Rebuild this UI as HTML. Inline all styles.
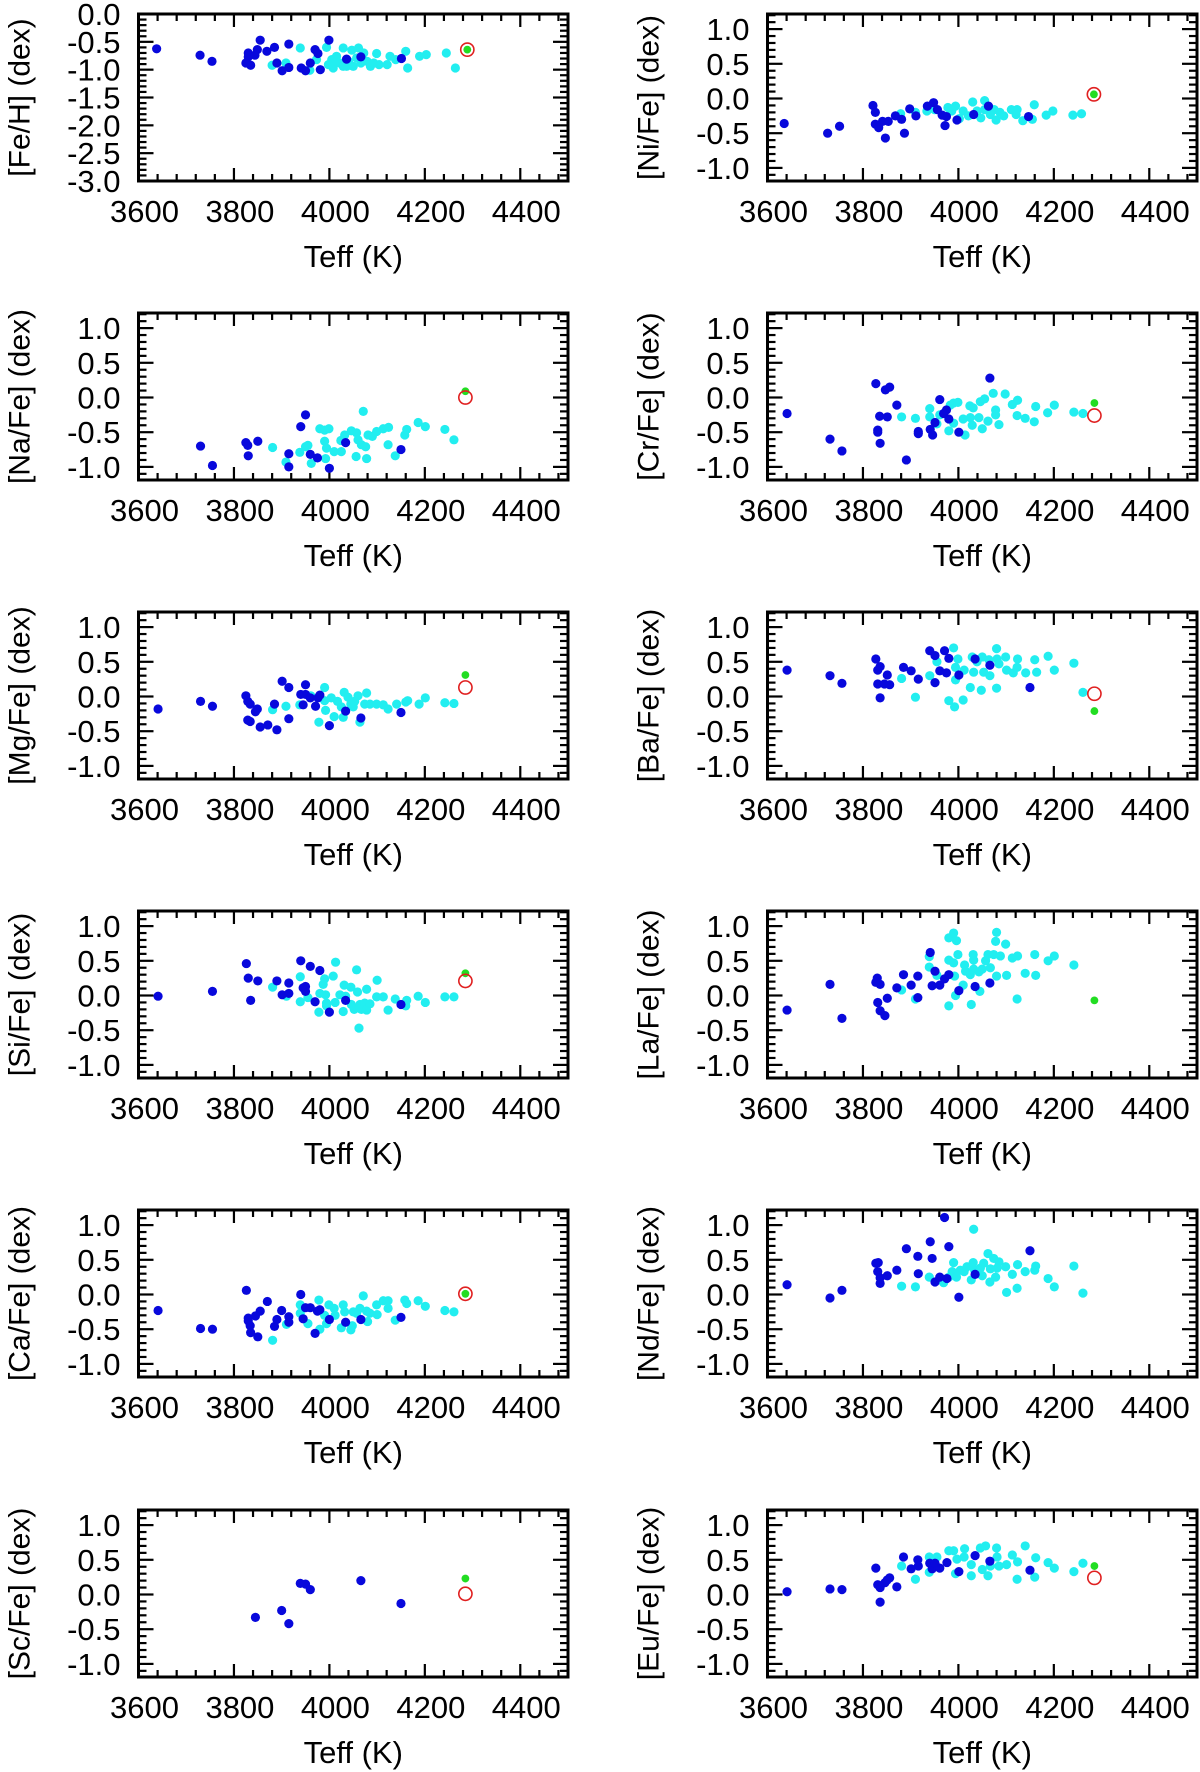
<!DOCTYPE html>
<html><head><meta charset="utf-8"><style>
html,body{margin:0;padding:0;background:#fff;}
svg{display:block;font-family:"Liberation Sans",Arial,sans-serif;}
</style></head><body>
<svg id="chart" width="1200" height="1772" viewBox="0 0 1200 1772" xmlns="http://www.w3.org/2000/svg"></svg>
<script>
const xTicks = [3600, 3800, 4000, 4200, 4400];
const ratioTicks = [1.0, 0.5, 0.0, -0.5, -1.0];
const fehTicks = [0.0, -0.5, -1.0, -1.5, -2.0, -2.5, -3.0];

const feBlue = [[3638,-0.625],[3729,-0.74],[3754,-0.85],[3830,-0.70],[3830,-0.77],[3825,-0.88],[3835,-0.92],[3844,-0.74],[3849,-0.64],[3855,-0.47],[3869,-0.67],[3885,-0.60],[3890,-0.88],[3901,-1.02],[3915,-0.54],[3915,-0.96],[3941,-0.97],[3950,-1.02],[3960,-0.88],[3970,-0.64],[3976,-0.71],[3981,-1.0],[3999,-0.47],[4036,-0.81],[4066,-0.77],[4151,-0.80]];
const feCyan = [[3880,-0.92],[3909,-0.88],[3939,-0.61],[3959,-1.01],[3973,-0.82],[3994,-0.60],[4005,-0.82],[4008,-0.97],[4015,-0.76],[4022,-0.88],[4029,-0.61],[4029,-0.94],[4040,-0.85],[4047,-0.65],[4050,-0.94],[4061,-0.61],[4066,-0.88],[4072,-0.70],[4079,-0.85],[4086,-0.94],[4099,-0.71],[4104,-0.91],[4121,-0.91],[4127,-0.76],[4139,-0.82],[4160,-0.67],[4164,-0.97],[4189,-0.76],[4203,-0.73],[4245,-0.70],[4264,-0.97],[4010,-0.85],[4036,-0.94],[4057,-0.79],[3998,-0.91],[4093,-0.88]];

const niBlue = [[3635,-0.36],[3726,-0.50],[3751,-0.40],[3821,-0.10],[3826,-0.20],[3826,-0.37],[3833,-0.42],[3841,-0.33],[3847,-0.57],[3853,-0.33],[3868,-0.25],[3881,-0.30],[3887,-0.50],[3898,-0.15],[3911,-0.25],[3935,-0.11],[3948,-0.06],[3956,-0.16],[3966,-0.24],[3972,-0.39],[3975,-0.26],[3997,-0.31],[4032,-0.23],[4063,-0.11],[4147,-0.26]];
const niCyan = [[3879,-0.22],[3910,-0.20],[3934,-0.18],[3950,-0.16],[3978,-0.13],[3986,-0.18],[3994,-0.11],[4002,-0.29],[4010,-0.18],[4021,-0.25],[4030,-0.05],[4039,-0.18],[4047,-0.28],[4055,-0.16],[4055,-0.03],[4067,-0.23],[4075,-0.16],[4079,-0.31],[4087,-0.20],[4095,-0.25],[4111,-0.16],[4121,-0.23],[4123,-0.16],[4135,-0.32],[4155,-0.30],[4159,-0.09],[4184,-0.24],[4198,-0.18],[4240,-0.24],[4258,-0.22]];

const naBlue = [[3730,-0.70],[3755,-0.98],[3825,-0.65],[3829,-0.69],[3830,-0.84],[3850,-0.63],[3915,-0.81],[3915,-1.0],[3940,-0.42],[3950,-0.25],[3960,-0.82],[3975,-0.87],[4000,-1.02],[4034,-0.65],[4150,-0.75]];
const naCyan = [[3881,-0.72],[3909,-0.93],[3938,-0.79],[3950,-0.71],[3955,-0.69],[3962,-0.95],[3980,-0.45],[3990,-0.47],[3999,-0.45],[3990,-0.63],[3994,-0.73],[3992,-0.88],[4010,-0.78],[4025,-0.78],[4024,-0.62],[4032,-0.54],[4046,-0.48],[4057,-0.51],[4060,-0.61],[4071,-0.20],[4067,-0.68],[4056,-0.85],[4078,-0.88],[4076,-0.71],[4081,-0.54],[4090,-0.56],[4099,-0.49],[4113,-0.45],[4124,-0.43],[4123,-0.68],[4138,-0.84],[4158,-0.54],[4162,-0.46],[4186,-0.36],[4201,-0.42],[4242,-0.46],[4261,-0.61]];

const crBlue = [[3641,-0.23],[3731,-0.60],[3756,-0.77],[3827,0.20],[3847,0.11],[3856,0.15],[3835,-0.27],[3851,-0.28],[3831,-0.47],[3831,-0.50],[3836,-0.66],[3871,-0.11],[3891,-0.90],[3916,-0.49],[3916,-0.52],[3941,-0.46],[3946,-0.54],[3951,-0.36],[3961,-0.03],[3969,-0.23],[3975,-0.18],[3980,-0.31],[4001,-0.50],[4066,0.28]];
const crCyan = [[3881,-0.28],[3910,-0.30],[3940,-0.16],[3940,-0.28],[3955,-0.38],[3961,-0.25],[3980,-0.48],[3983,-0.11],[3990,-0.08],[3999,-0.07],[3990,-0.37],[4010,-0.31],[4014,-0.54],[4024,-0.12],[4031,-0.15],[4029,-0.40],[4025,-0.29],[4043,-0.29],[4046,-0.06],[4050,-0.45],[4055,-0.02],[4062,-0.34],[4073,0.06],[4078,-0.18],[4078,-0.25],[4085,-0.39],[4098,0.05],[4113,-0.10],[4124,-0.04],[4123,-0.26],[4140,-0.30],[4159,-0.35],[4162,-0.13],[4187,-0.22],[4201,-0.11],[4242,-0.21],[4261,-0.23]];

const mgBlue = [[3641,-0.18],[3730,-0.07],[3755,-0.14],[3825,0.01],[3829,-0.07],[3834,-0.11],[3849,-0.18],[3845,-0.22],[3829,-0.34],[3834,-0.36],[3855,-0.44],[3871,-0.41],[3890,-0.48],[3885,-0.11],[3901,0.22],[3915,0.13],[3915,-0.32],[3940,0.03],[3950,0.17],[3950,0.03],[3945,-0.12],[3960,-0.02],[3971,-0.14],[3976,-0.02],[3980,0.02],[4000,-0.42],[4034,-0.21],[4066,-0.31],[4150,-0.23]];
const mgCyan = [[3881,-0.19],[3909,-0.14],[3938,-0.12],[3961,0.01],[3978,-0.37],[3990,0.13],[3992,-0.20],[3990,-0.06],[4004,-0.02],[4010,-0.29],[4017,-0.07],[4031,0.06],[4029,-0.30],[4025,-0.15],[4039,-0.01],[4045,-0.11],[4050,-0.15],[4053,-0.07],[4060,0.01],[4064,-0.37],[4074,-0.11],[4078,0.05],[4085,-0.11],[4099,-0.11],[4113,-0.12],[4123,-0.18],[4141,-0.11],[4160,-0.08],[4164,-0.06],[4188,-0.11],[4201,-0.02],[4242,-0.09],[4261,-0.10]];

const baBlue = [[3641,0.38],[3731,0.30],[3756,0.19],[3827,0.54],[3831,0.38],[3836,0.43],[3851,0.31],[3831,0.18],[3845,0.18],[3856,0.17],[3836,-0.02],[3885,0.42],[3901,0.37],[3916,0.25],[3940,0.66],[3951,0.59],[3971,0.66],[3980,0.55],[3961,0.37],[3975,0.34],[3951,0.20],[4001,0.31],[4035,0.54],[4066,0.45],[4150,0.13]];
const baCyan = [[3881,0.26],[3910,-0.01],[3940,0.30],[3955,0.50],[3980,-0.06],[3990,0.70],[3992,-0.15],[3999,0.54],[3994,0.42],[3994,0.24],[4010,-0.05],[4012,0.38],[4025,0.13],[4029,0.57],[4032,0.35],[4039,0.50],[4048,0.09],[4050,0.57],[4053,0.35],[4064,0.53],[4066,0.30],[4080,0.69],[4080,0.12],[4081,0.54],[4085,0.47],[4099,0.57],[4101,0.38],[4115,0.34],[4124,0.54],[4123,0.42],[4141,0.34],[4160,0.53],[4164,0.35],[4188,0.58],[4201,0.38],[4242,0.48],[4261,0.06]];

const siBlue = [[3641,-0.01],[3755,0.06],[3826,0.46],[3830,0.25],[3835,-0.07],[3850,0.21],[3890,0.21],[3901,0.01],[3915,0.18],[3915,0.03],[3940,0.50],[3945,0.11],[3950,0.13],[3950,0.06],[3960,0.42],[3970,-0.09],[3980,0.36],[4000,-0.24],[4034,-0.07],[4150,-0.13]];
const siCyan = [[3881,0.12],[3910,-0.01],[3939,0.27],[3939,-0.09],[3955,-0.03],[3978,-0.24],[3980,0.03],[3987,0.16],[3990,0.24],[3992,0.01],[3994,-0.11],[3994,-0.15],[4008,0.28],[4013,0.48],[4012,-0.10],[4022,0.01],[4029,-0.23],[4031,0.15],[4034,-0.01],[4045,0.12],[4046,-0.13],[4052,-0.20],[4057,0.37],[4059,0.05],[4062,-0.47],[4064,-0.13],[4067,-0.20],[4074,-0.11],[4078,0.09],[4078,-0.21],[4085,-0.12],[4099,-0.02],[4100,0.22],[4113,-0.02],[4123,-0.21],[4138,-0.05],[4160,-0.15],[4162,-0.07],[4186,-0.01],[4201,-0.10],[4242,-0.02],[4261,-0.02]];

const laBlue = [[3641,-0.21],[3731,0.16],[3756,-0.33],[3830,0.25],[3827,0.19],[3836,0.16],[3831,-0.10],[3836,-0.22],[3846,-0.29],[3851,-0.04],[3871,0.11],[3885,0.30],[3901,0.15],[3915,0.28],[3915,-0.03],[3941,0.62],[3945,0.14],[3951,0.35],[3961,0.15],[3971,0.24],[3980,0.30],[4001,0.07],[4035,0.13],[4066,0.18]];
const laCyan = [[3881,0.08],[3910,-0.05],[3939,0.56],[3939,0.41],[3955,0.29],[3980,-0.15],[3980,0.83],[3990,0.90],[3996,0.79],[3980,0.51],[3990,0.47],[3992,0.28],[3994,0.00],[3999,0.59],[4010,0.15],[4013,0.44],[4015,0.35],[4025,0.30],[4027,-0.13],[4031,0.59],[4032,0.51],[4032,0.38],[4043,0.34],[4045,0.06],[4050,0.38],[4057,0.50],[4062,0.59],[4067,0.40],[4074,0.59],[4078,0.78],[4080,0.91],[4080,0.28],[4088,0.57],[4099,0.74],[4101,0.29],[4113,0.54],[4124,0.57],[4123,-0.05],[4140,0.32],[4160,0.59],[4162,0.29],[4188,0.50],[4201,0.57],[4242,0.44]];

const caBlue = [[3641,-0.23],[3730,-0.49],[3755,-0.50],[3826,0.06],[3830,-0.34],[3830,-0.38],[3834,-0.45],[3835,-0.55],[3845,-0.31],[3850,-0.61],[3855,-0.24],[3870,-0.10],[3885,-0.46],[3890,-0.36],[3900,-0.23],[3915,-0.32],[3915,-0.40],[3940,0.00],[3945,-0.35],[3950,-0.19],[3960,-0.19],[3970,-0.56],[3975,-0.24],[3980,-0.22],[4000,-0.36],[4034,-0.40],[4066,-0.36],[4150,-0.33]];
const caCyan = [[3881,-0.66],[3910,-0.43],[3939,-0.15],[3939,-0.27],[3955,-0.42],[3978,-0.08],[3980,-0.50],[3990,-0.30],[3994,-0.42],[3999,-0.15],[4010,-0.20],[4012,-0.30],[4025,-0.48],[4029,-0.15],[4032,-0.25],[4045,-0.51],[4048,-0.45],[4050,-0.25],[4057,-0.27],[4064,-0.20],[4071,-0.02],[4078,-0.24],[4080,-0.39],[4085,-0.27],[4099,-0.15],[4100,-0.29],[4113,-0.09],[4123,-0.09],[4123,-0.20],[4138,-0.37],[4158,-0.08],[4162,-0.13],[4186,-0.09],[4201,-0.17],[4242,-0.23],[4261,-0.25]];

const ndBlue = [[3641,0.14],[3731,-0.05],[3756,0.06],[3827,0.45],[3832,0.46],[3831,0.33],[3836,0.24],[3836,0.16],[3851,0.27],[3871,0.35],[3891,0.66],[3915,0.55],[3916,0.30],[3941,0.76],[3945,0.52],[3951,0.18],[3961,0.25],[3971,1.11],[3976,0.23],[3980,0.69],[4001,-0.04],[4035,0.29],[4150,0.63]];
const ndCyan = [[3881,0.12],[3910,0.11],[3939,0.25],[3969,0.17],[3980,0.25],[3987,0.33],[3990,0.46],[3996,0.25],[4004,0.35],[4012,0.33],[4018,0.40],[4027,0.21],[4031,0.46],[4032,0.94],[4034,0.35],[4046,0.38],[4050,0.27],[4053,0.45],[4062,0.59],[4066,0.18],[4067,0.37],[4074,0.52],[4078,0.25],[4081,0.38],[4085,0.47],[4099,0.40],[4101,0.03],[4113,0.29],[4123,0.09],[4124,0.43],[4140,0.33],[4160,0.35],[4162,0.41],[4188,0.23],[4201,0.11],[4242,0.41],[4261,0.02]];

const scBlue = [[3845,-0.33],[3900,-0.23],[3915,-0.42],[3939,0.16],[3950,0.15],[3960,0.07],[4066,0.20],[4150,-0.13]];
const scCyan = [];

const euBlue = [[3641,0.04],[3731,0.08],[3756,0.07],[3827,0.38],[3831,0.14],[3836,0.10],[3836,-0.11],[3846,0.17],[3851,0.21],[3856,0.24],[3871,0.11],[3885,0.54],[3901,0.37],[3915,0.50],[3916,0.41],[3940,0.45],[3945,0.37],[3951,0.45],[3961,0.38],[3976,0.46],[4001,0.33],[4035,0.56],[4066,0.48],[4150,0.35]];
const euCyan = [[3881,0.41],[3910,0.22],[3939,0.54],[3939,0.32],[3955,0.54],[3980,0.63],[3990,0.63],[3994,0.30],[3997,0.51],[4012,0.54],[4013,0.66],[4027,0.43],[4027,0.27],[4046,0.67],[4050,0.36],[4057,0.70],[4062,0.27],[4067,0.41],[4080,0.67],[4081,0.54],[4085,0.41],[4101,0.43],[4113,0.57],[4123,0.22],[4124,0.47],[4140,0.70],[4160,0.25],[4162,0.53],[4188,0.46],[4201,0.38],[4242,0.33],[4261,0.45]];

const feGreen = [4289,-0.64], feRed = [4289,-0.64];
const niGreen = [4284,0.06], niRed = [4284,0.06];
const naGreen = [4285,0.09], naRed = [4285,0.0];
const crGreen = [4285,-0.08], crRed = [4285,-0.26];
const mgGreen = [4285,0.31], mgRed = [4285,0.13];
const baGreen = [4285,-0.21], baRed = [4285,0.04];
const siGreen = [4285,0.32], siRed = [4285,0.21];
const laGreen = [4285,-0.07], laRed = null;
const caGreen = [4285,0.01], caRed = [4285,0.01];
const ndGreen = null, ndRed = null;
const scGreen = [4285,0.23], scRed = [4285,0.01];
const euGreen = [4285,0.41], euRed = [4285,0.24];

const panels = [
 {id:'fe-h', label:'[Fe/H] (dex)', col:0,row:0, feh:true, blue:feBlue, cyan:feCyan, green:feGreen, red:feRed},
 {id:'ni-fe', label:'[Ni/Fe] (dex)', col:1,row:0, blue:niBlue, cyan:niCyan, green:niGreen, red:niRed},
 {id:'na-fe', label:'[Na/Fe] (dex)', col:0,row:1, blue:naBlue, cyan:naCyan, green:naGreen, red:naRed},
 {id:'cr-fe', label:'[Cr/Fe] (dex)', col:1,row:1, blue:crBlue, cyan:crCyan, green:crGreen, red:crRed},
 {id:'mg-fe', label:'[Mg/Fe] (dex)', col:0,row:2, blue:mgBlue, cyan:mgCyan, green:mgGreen, red:mgRed},
 {id:'ba-fe', label:'[Ba/Fe] (dex)', col:1,row:2, blue:baBlue, cyan:baCyan, green:baGreen, red:baRed},
 {id:'si-fe', label:'[Si/Fe] (dex)', col:0,row:3, blue:siBlue, cyan:siCyan, green:siGreen, red:siRed},
 {id:'la-fe', label:'[La/Fe] (dex)', col:1,row:3, blue:laBlue, cyan:laCyan, green:laGreen, red:laRed},
 {id:'ca-fe', label:'[Ca/Fe] (dex)', col:0,row:4, blue:caBlue, cyan:caCyan, green:caGreen, red:caRed},
 {id:'nd-fe', label:'[Nd/Fe] (dex)', col:1,row:4, blue:ndBlue, cyan:ndCyan, green:ndGreen, red:ndRed},
 {id:'sc-fe', label:'[Sc/Fe] (dex)', col:0,row:5, blue:scBlue, cyan:scCyan, green:scGreen, red:scRed},
 {id:'eu-fe', label:'[Eu/Fe] (dex)', col:1,row:5, blue:euBlue, cyan:euCyan, green:euGreen, red:euRed}
];

const NS = 'http://www.w3.org/2000/svg';
const svg = document.getElementById('chart');
const TOPS = [14, 313, 612, 911, 1210, 1510];
const LEFTS = [138.5, 767.5];
const W = 429.5, H = 167;
const XMIN = 3600, XMAX = 4500;

function mk(tag, attrs, parent) {
  const e = document.createElementNS(NS, tag);
  for (const k in attrs) e.setAttribute(k, attrs[k]);
  parent.appendChild(e);
  return e;
}

panels.forEach(p => {
  const L = LEFTS[p.col], T = TOPS[p.row];
  const ymax = p.feh ? 0 : 1.2176;
  const ymin = p.feh ? -3.0 : 1.2176 - H / 69.4;
  const xs = t => L + (t - XMIN) / (XMAX - XMIN) * W;
  const ys = v => T + (ymax - v) / (ymax - ymin) * H;

  const g = mk('g', {}, svg);
  
  

  const tg = mk('g', {stroke:'#000','stroke-width':2.2}, g);
  
  
  for (let t = XMIN; t <= XMAX; t += 40) {
    const major = (t - 3600) % 200 === 0;
    const len = major ? 13 : 7;
    const x = xs(t);
    if (x > L + W - 1) break;
    mk('line', {x1:x, y1:T+H, x2:x, y2:T+H-len}, tg);
    mk('line', {x1:x, y1:T, x2:x, y2:T+len}, tg);
  }
  const nmin = Math.ceil(ymin * 10 - 1e-6), nmax = Math.floor(ymax * 10 + 1e-6);
  for (let n = nmin; n <= nmax; n++) {
    const major = n % 5 === 0;
    const len = major ? 15 : 8;
    const y = ys(n / 10);
    mk('line', {x1:L, y1:y, x2:L+len, y2:y}, tg);
    mk('line', {x1:L+W, y1:y, x2:L+W-len, y2:y}, tg);
  }

  const fr = mk('rect', {x:L, y:T, width:W, height:H, fill:'none', stroke:'#000', 'stroke-width':3}, g);
  
  

  xTicks.forEach(t => {
    const tx = mk('text', {x:xs(t)+6, y:T+208, 'font-size':31, 'text-anchor':'middle', fill:'#000'}, g);
    tx.textContent = String(t);
    
    
  });
  (p.feh ? fehTicks : ratioTicks).forEach(v => {
    const ty = mk('text', {x:L-18, y:ys(v)+11, 'font-size':31, 'text-anchor':'end', fill:'#000'}, g);
    ty.textContent = v.toFixed(1);
    
    
  });
  const xt = mk('text', {x:L+W/2, y:T+253, 'font-size':31, 'text-anchor':'middle', fill:'#000'}, g);
  xt.textContent = 'Teff (K)';
  
  
  const cx = L - 109, cy = T + H/2;
  const yt = mk('text', {x:cx, y:cy, 'font-size':30, 'text-anchor':'middle', fill:'#000', transform:'rotate(-90 '+cx+' '+cy+')'}, g);
  yt.textContent = p.label;
  
  

  p.cyan.forEach(d => {
    const c = mk('circle', {cx:xs(d[0]), cy:ys(d[1]), r:4.6, fill:'#22eef0'}, g);
    
    
  });
  p.blue.forEach(d => {
    const c = mk('circle', {cx:xs(d[0]), cy:ys(d[1]), r:4.6, fill:'#0808dc'}, g);
    
    
  });
  if (p.green) {
    const c = mk('circle', {cx:xs(p.green[0]), cy:ys(p.green[1]), r:3.9, fill:'#22dd22'}, g);
    
    
  }
  if (p.red) {
    const c = mk('circle', {cx:xs(p.red[0]), cy:ys(p.red[1]), r:6.6, fill:'none', stroke:'#e02020', 'stroke-width':1.6}, g);
    
    
  }
});
</script>
</body></html>
